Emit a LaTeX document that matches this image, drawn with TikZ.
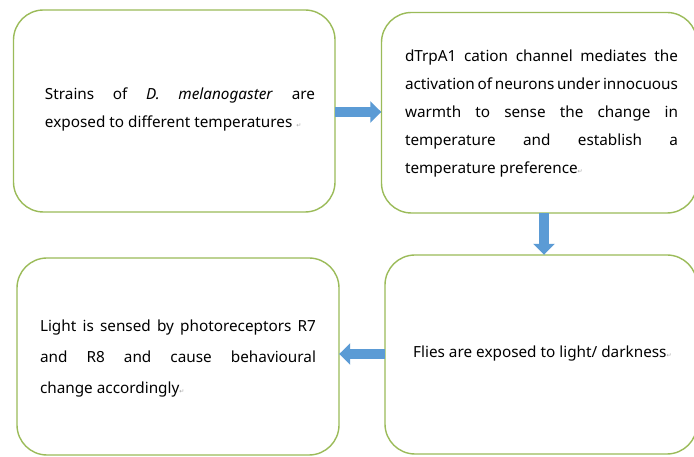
\documentclass[tikz,border=0pt]{standalone}
\usepackage{fontspec}
\setmainfont{Noto Sans}
\newfontfamily\symfont{DejaVu Sans}
\usetikzlibrary{arrows.meta,calc}
\definecolor{boxgreen}{RGB}{155,187,89}
\definecolor{arrowblue}{RGB}{91,155,213}
\newcommand\retmark{{\symfont\fontsize{6}{6}\selectfont\color{black!35}\char"21B5}}
\newcommand\nohyph{\hyphenpenalty=10000 \exhyphenpenalty=10000 \hbadness=10000 \tolerance=9999 }
\begin{document}
\begin{tikzpicture}[x=1pt,y=1pt,
  flowbox/.style={draw=boxgreen, line width=1.4pt, rounded corners=30pt, fill=white},
  txt/.style={inner sep=0pt, align=justify, font=\fontsize{15.3}{28}\selectfont},
  blockarrow/.style={draw=arrowblue, line width=10.5pt, -{Triangle[width=21pt,length=11pt]}}]
\useasboundingbox (0,0) rectangle (694,457);
\fill[white] (0,0) rectangle (694,457);
% boxes
\draw[flowbox] (13.5,447) rectangle (335,245);
\node[inner sep=0pt, minimum width=321.5pt, minimum height=202pt] (b1) at (174.25,346) {};
\draw[flowbox] (381.5,444.5) rectangle (697,244);
\node[inner sep=0pt, minimum width=315.5pt, minimum height=200.5pt] (b2) at (539.25,344.25) {};
\draw[flowbox] (17,199) rectangle (339,2);
\node[inner sep=0pt, minimum width=322pt, minimum height=197pt] (b3) at (178,100.5) {};
\draw[flowbox] (385,202) rectangle (697,3);
\node[inner sep=0pt, minimum width=312pt, minimum height=199pt] (b4) at (541,102.5) {};
% texts
\node[txt, text width=270pt] (t1) at (180,348) {\nohyph Strains of \textit{D. melanogaster} are\linebreak exposed to different temperatures~\retmark};
\node[txt, text width=273pt] (t2) at (541.5,343.5) {\nohyph dTrpA1 cation channel mediates the\linebreak activation of neurons under innocuous\linebreak warmth to sense the change in\linebreak temperature and establish a\linebreak temperature preference\retmark};
\node[txt, text width=276pt, font=\fontsize{15.3}{31}\selectfont] (t3) at (178,98) {\nohyph Light is sensed by photoreceptors R7\linebreak and R8 and cause behavioural\linebreak change accordingly\retmark};
\node[txt, anchor=west, align=left] (t4) at (413,103) {Flies are exposed to light/ darkness\retmark};
% arrows
\coordinate (dx) at (544,0);
\draw[blockarrow] (b1.east |- 0,345) -- (b2.west |- 0,345);
\draw[blockarrow] (b2.south -| dx) -- (b4.north -| dx);
\draw[blockarrow] (b4.west |- 0,103) -- (b3.east |- 0,103);
\end{tikzpicture}
\end{document}
